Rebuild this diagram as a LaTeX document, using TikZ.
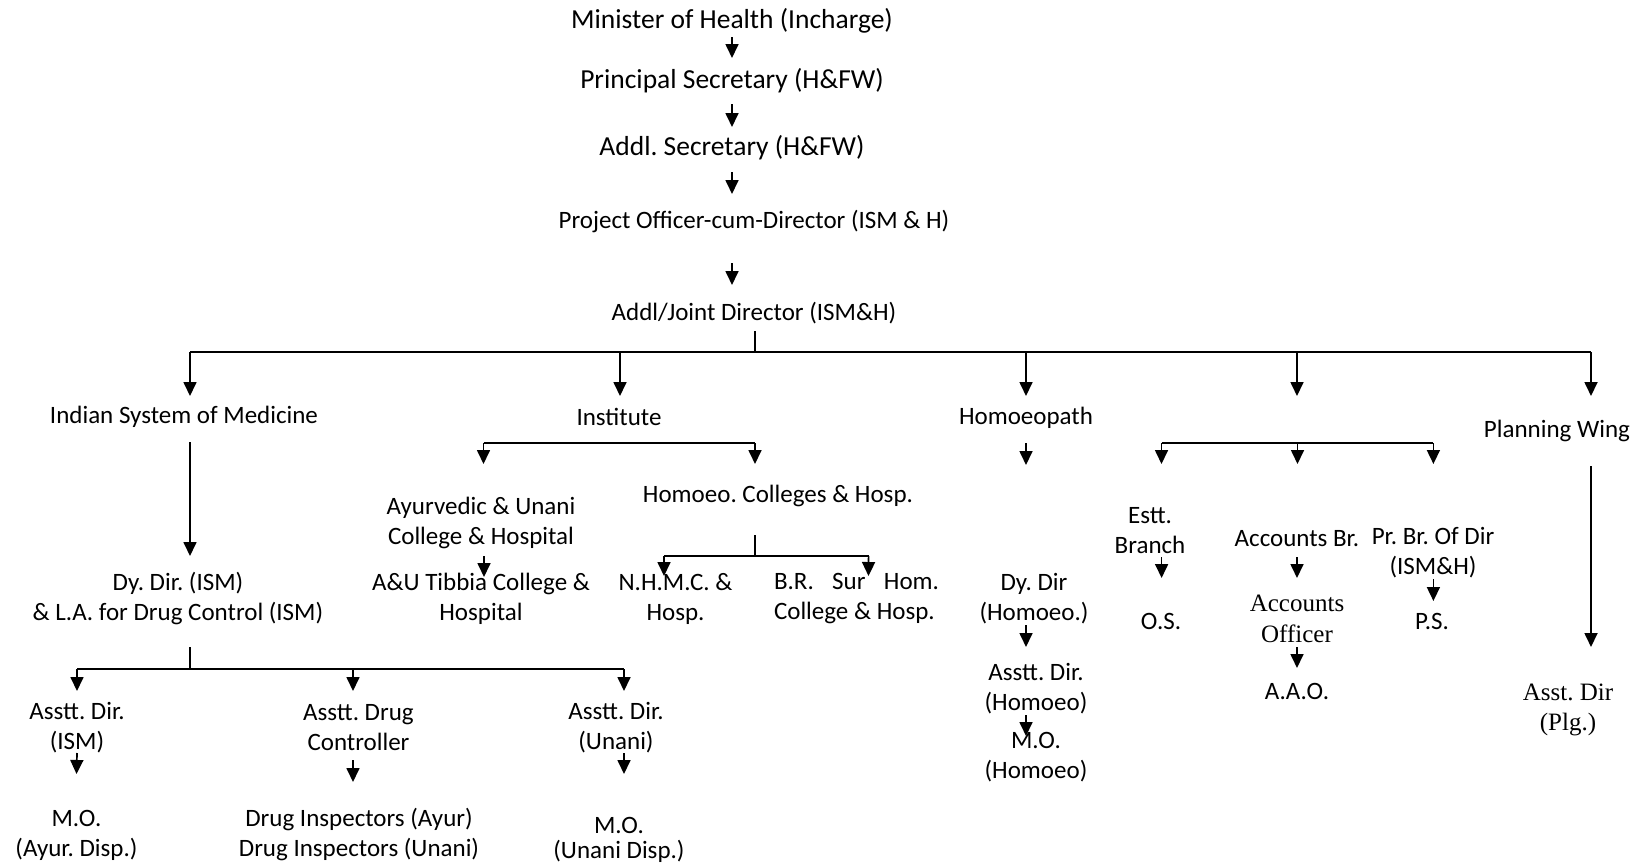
\documentclass[tikz,border=0pt]{standalone}
\usepackage{fontspec}
\usetikzlibrary{arrows.meta,calc}
\newfontfamily\calfam{Carlito}
\newfontfamily\tnrfam{Liberation Serif}
\frenchspacing
\newcommand\fbase{\calfam\fontsize{25}{30}\selectfont\frenchspacing}
\newcommand\fbig{\calfam\fontsize{27.5}{33}\selectfont\frenchspacing}
\newcommand\ftnr{\tnrfam\fontsize{25}{30.5}\selectfont\frenchspacing}
\tikzset{
  lbl/.style={inner sep=0pt, align=center, font=\fbase, text=black},
  biglbl/.style={inner sep=0pt, align=center, font=\fbig, text=black},
  tnrlbl/.style={inner sep=0pt, align=center, font=\ftnr, text=black},
  ln/.style={line width=1.7pt, draw=black},
  arr/.style={ln, -{Triangle[length=14pt,width=13pt]}},
}
\begin{document}
\begin{tikzpicture}[x=1pt,y=-1pt]
\useasboundingbox (0,0) rectangle (1644,865);

% ---- top chain ----
\node[biglbl] (min)  at (732,21)  {Minister of Health (Incharge)};
\node[biglbl] (ps)   at (732,81)  {Principal Secretary (H\&FW)};
\node[biglbl] (asec) at (732,148) {Addl. Secretary (H\&FW)};
\node[lbl]    (po)   at (754,221) {Project Officer-cum-Director (ISM \& H)};
\node[lbl]    (ajd)  at (754,313) {Addl/Joint Director (ISM\&H)};

\draw[arr] ($(min)+(0,16)$)   -- ($(ps)+(0,-23)$);
\draw[arr] ($(ps)+(0,23)$)    -- ($(asec)+(0,-21)$);
\draw[arr] ($(asec)+(0,24)$)  -- ($(po)+(-22,-27)$);
\draw[arr] ($(po)+(-22,42)$)  -- ($(ajd)+(-22,-28)$);

% ---- main bus ----
\coordinate (b1) at (190,352);
\coordinate (b2) at (620,352);
\coordinate (b3) at (1026,352);
\coordinate (b4) at (1297,352);
\coordinate (b5) at (1591,352);
\coordinate (c4) at (1297,396);
\draw[ln] ($(ajd)+(1,18)$) -- ++(0,21);
\draw[ln] (b1) -- (b5);

% ---- level 2 ----
\node[lbl] (ism)  at (184,417)  {Indian System of Medicine};
\node[lbl] (inst) at (619,417)  {Institute};
\node[lbl] (hom)  at (1026,418) {Homoeopath};
\node[lbl] (pw)   at (1557,431) {Planning Wing};

\draw[arr] (b1) -- ($(ism)+(6,-21)$);
\draw[arr] (b2) -- ($(inst)+(1,-21)$);
\draw[arr] (b3) -- ($(hom)+(0,-22)$);
\draw[arr] (b4) -- (c4);
\draw[arr] (b5) -- ($(pw)+(34,-35)$);

% ---- Indian System of Medicine ----
\node[lbl] (dyd)   at (178,598)   {Dy. Dir. (ISM)\\\& L.A. for Drug Control (ISM)};
\draw[arr] ($(ism)+(6,25)$) -- ($(dyd)+(12,-42)$);
\coordinate (s1) at (190,669);
\coordinate (s1l) at (77,669);
\coordinate (s1m) at (353,669);
\coordinate (s1r) at (624,669);
\draw[ln] ($(dyd)+(12,49)$) -- (s1);
\draw[ln] (s1l) -- (s1r);

\node[lbl] (adism) at (77,728)    {Asstt. Dir.\\(ISM)};
\node[lbl] (adc)   at (358.5,728) {Asstt. Drug\\Controller};
\node[lbl] (adu)   at (616,728)   {Asstt. Dir.\\(Unani)};
\draw[arr] (s1l) -- ($(adism)+(0,-37)$);
\draw[arr] (s1m) -- ($(adc)+(-5.5,-37)$);
\draw[arr] (s1r) -- ($(adu)+(8,-37)$);

\node[lbl] (mo1) at (76.5,835) {M.O.\\(Ayur. Disp.)};
\node[lbl] (di)  at (359,834.5) {Drug Inspectors (Ayur)\\Drug Inspectors (Unani)};
\node[inner sep=0pt, align=center, text=black, font={\calfam\fontsize{25}{25.5}\selectfont}] (mo2) at (619,840) {M.O.\\(Unani Disp.)};
\draw[arr] ($(adism)+(0,25)$)  -- ($(mo1)+(0,-61)$);
\draw[arr] ($(adc)+(-5.5,32)$) -- ($(di)+(-6,-52.5)$);
\draw[arr] ($(adu)+(8,25)$)    -- ($(mo2)+(5,-66)$);

% ---- Institute ----
\node[lbl] (auc) at (481,523) {Ayurvedic \& Unani\\College \& Hospital};
\node[lbl] (hch) at (778,496) {Homoeo. Colleges \& Hosp.};
\coordinate (i1) at (483.5,443);
\coordinate (i2) at (755,443);
\draw[ln] (i1) -- (i2);
\draw[arr] (i1) -- ($(auc)+(2.5,-59)$);
\draw[arr] (i2) -- ($(hch)+(-23,-32)$);

\node[lbl] (aut) at (481,599) {A\&U Tibbia College \&\\Hospital};
\draw[arr] ($(auc)+(3,33)$) -- ($(aut)+(3,-22)$);

\coordinate (h1) at (755,556);
\coordinate (h1l) at (664,556);
\coordinate (h1r) at (868.6,556);
\draw[ln] ($(hch)+(-23,39)$) -- (h1);
\draw[ln] (h1l) -- (h1r);
\node[lbl] (nhmc) at (675.5,599) {N.H.M.C. \&\\Hosp.};
\node[lbl, align=left] (brs) at (856.5,599) {\makebox[165pt]{B.R.\hfill Sur\hfill Hom.}\\College \& Hosp.};
\draw[arr] (h1l) -- ($(nhmc)+(-11.5,-23)$);
\draw[arr] (h1r) -- ($(brs)+(12,-23)$);

% ---- Homoeopath ----
\node[lbl] (dydh) at (1034,599) {Dy. Dir\\(Homoeo.)};
\node[lbl] (adh)  at (1036,689) {Asstt. Dir.\\(Homoeo)};
\node[lbl] (moh)  at (1036,757) {M.O.\\(Homoeo)};
\draw[arr] ($(hom)+(0,25)$)    -- ($(dydh)+(-8,-134)$);
\draw[arr] ($(dydh)+(-8,26)$)  -- ($(adh)+(-10,-42)$);
\draw[arr] ($(adh)+(-10,26)$)  -- ($(moh)+(-10,-21)$);

% ---- fourth column ----
\coordinate (k1) at (1161.5,443);
\coordinate (k2) at (1297.5,443);
\coordinate (k3) at (1433.4,443);
\draw[ln] (k1) -- (k3);
\node[lbl] (estt)  at (1150,531) {Estt.\\Branch};
\node[lbl] (accbr) at (1297,539) {Accounts Br.};
\node[lbl] (prbr)  at (1433,553) {Pr. Br. Of Dir\\(ISM\&H)};
\draw[arr] (k1) -- ($(estt)+(11.5,-67)$);
\draw[arr] (k2) -- ($(accbr)+(0.5,-75)$);
\draw[arr] (k3) -- ($(prbr)+(0.4,-89)$);

\node[lbl]    (os)   at (1161,621) {O.S.};
\node[tnrlbl] (acco) at (1297,619) {Accounts\\Officer};
\node[lbl]    (aao)  at (1297,691) {A.A.O.};
\node[lbl]    (ps2)  at (1432,621) {P.S.};
\draw[arr] ($(estt)+(11.6,26)$) -- ($(os)+(0.6,-43)$);
\draw[arr] ($(accbr)+(0,18)$)   -- ($(acco)+(0,-41)$);
\draw[arr] ($(acco)+(0,28)$)    -- ($(aao)+(0,-23)$);
\draw[arr] ($(prbr)+(0.4,26)$)  -- ($(ps2)+(1.4,-20)$);

% ---- Planning Wing ----
\node[tnrlbl] (apl) at (1568,710) {Asst. Dir\\(Plg.)};
\draw[arr] ($(pw)+(34,35)$) -- ($(apl)+(23,-63)$);
\end{tikzpicture}
\end{document}
